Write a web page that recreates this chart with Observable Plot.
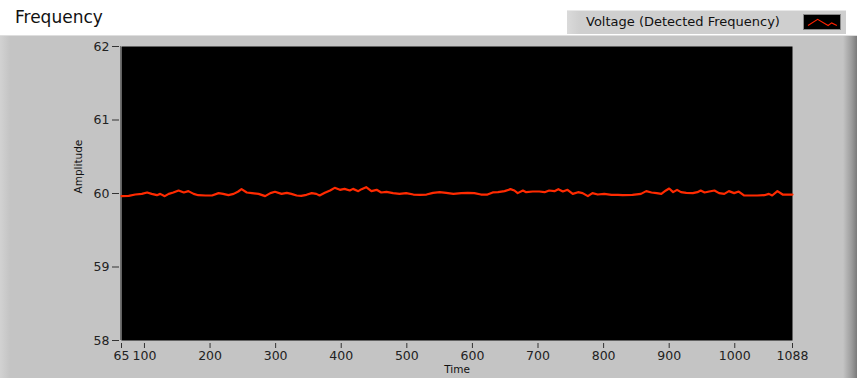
<!DOCTYPE html>
<html>
<head>
<meta charset="utf-8">
<script src="https://cdn.jsdelivr.net/npm/d3@7"></script>
<script src="https://cdn.jsdelivr.net/npm/@observablehq/plot@0.6"></script>
<style>
  html, body { margin: 0; padding: 0; background: #fff; }
  #wrap { position: relative; width: 857px; height: 378px; overflow: hidden; font-family: "DejaVu Sans", sans-serif; }
  #title { position: absolute; left: 15px; top: 7px; font-size: 17px; color: #111; }
  #panel { position: absolute; left: 0; top: 35px; width: 857px; height: 343px;
           background: linear-gradient(to right, #d2d2d2 0px, #c4c4c4 10px, #c4c4c4 843px, #9a9a9a 852px, #7a7a7a 857px);
           border-top: 1px solid #dedede; box-sizing: border-box; }
  #legend { position: absolute; left: 567px; top: 10px; width: 279px; height: 24px;
            background: linear-gradient(to right, #dadada 0px, #cfcfcf 12px, #cfcfcf 100%);
            border-top: 1px solid #e8e8e8; box-sizing: border-box; }
  #legend span { position: absolute; left: 19px; top: 3px; font-size: 13px; color: #111; white-space: nowrap; }
  #swatch { position: absolute; left: 236px; top: 3px; width: 38px; height: 16px; background: #000; border: 1px solid #888; box-sizing: border-box; }
  #chart { position: absolute; left: 0; top: 35px; }
</style>
</head>
<body>
<div id="wrap">
  <div id="panel"></div>
  <div id="title">Frequency</div>
  <div id="legend"><span>Voltage (Detected Frequency)</span>
    <svg id="swatch" viewBox="0 0 38 16"><polyline points="3,12 14,5 26,12 30,9 36,12" fill="none" stroke="#ff2200" stroke-width="1.3"/></svg>
  </div>
  <div id="chart"></div>
</div>
<script>
const time = [65,76,86,96,104,111,119,124,131,137,144,152,160,167,175,182,193,203,213,220,228,236,243,248,256,264,274,284,292,299,309,
  317,324,332,339,347,355,362,367,375,383,390,398,405,413,418,426,431,438,446,454,461,469,479,489,499,510,520,530,540,550,560,571,
  583,593,603,613,623,631,639,649,658,664,669,677,682,692,702,710,717,725,731,738,745,753,761,768,776,783,791,801,812,822,829,
  844,857,865,873,881,888,895,900,906,912,918,926,936,943,948,954,961,969,976,984,991,999,1006,1014,1024,1034,1045,1052,1057,1065,1073,1080,1088];
const amplitude = [59.964,59.968,59.986,59.995,60.014,59.995,59.977,59.995,59.964,59.995,60.014,60.041,60.014,60.032,59.995,59.977,59.973,59.973,60.005,59.995,59.977,59.995,60.027,60.059,60.014,60.005,59.995,59.964,60.005,60.023,59.995,
  60.009,59.995,59.973,59.968,59.982,60.005,59.995,59.973,60.009,60.041,60.077,60.050,60.063,60.041,60.063,60.032,60.059,60.086,60.032,60.050,60.014,60.023,60.005,59.995,60.005,59.986,59.982,59.986,60.009,60.018,60.009,59.995,
  60.005,60.009,60.005,59.986,59.986,60.014,60.018,60.032,60.059,60.041,60.005,60.041,60.018,60.027,60.027,60.018,60.041,60.032,60.059,60.027,60.050,59.995,60.018,60.005,59.964,60.005,59.986,59.995,59.982,59.982,59.977,
  59.982,59.995,60.032,60.014,60.005,59.995,60.041,60.068,60.018,60.050,60.018,60.009,60.005,60.018,60.041,60.014,60.027,60.041,60.005,59.995,60.032,60.005,60.027,59.973,59.973,59.973,59.977,59.995,59.973,60.032,59.986,59.986,59.986];
const xTicks = [65,100,200,300,400,500,600,700,800,900,1000,1088];
const yTicks = [58,59,60,61,62];

const data = time.map((t, i) => ({t, v: amplitude[i]}));

const chart = Plot.plot({
  width: 857,
  height: 343,
  marginLeft: 121,
  marginRight: 65,
  marginTop: 11,
  marginBottom: 38,
  x: {domain: [65, 1088]},
  y: {domain: [58, 62]},
  style: {background: "transparent", fontFamily: "DejaVu Sans, sans-serif", fontSize: "12.5px", color: "#222", overflow: "visible"},
  marks: [
    Plot.frame({fill: "black", stroke: null}),
    Plot.ruleX([65], {stroke: "#707070", dx: -1}),
    Plot.line(data, {x: "t", y: "v", stroke: "#ff2a00", strokeWidth: 2.2}),
    Plot.axisY({ticks: yTicks, tickSize: 7, tickPadding: 3, dx: -2, label: null, stroke: "#333", tickFormat: d => String(d)}),
    Plot.axisX({ticks: xTicks, tickSize: 5, tickPadding: 3, dy: 3, label: null, tickFormat: d => String(d), stroke: "#333"}),
    Plot.text(["Amplitude"], {frameAnchor: "left", dx: -43, rotate: -90, fontSize: 10.5, fill: "#111"}),
    Plot.text(["Time"], {frameAnchor: "bottom", dy: 32, fontSize: 10.5, fill: "#111"})
  ]
});
document.getElementById("chart").appendChild(chart);
</script>
</body>
</html>
